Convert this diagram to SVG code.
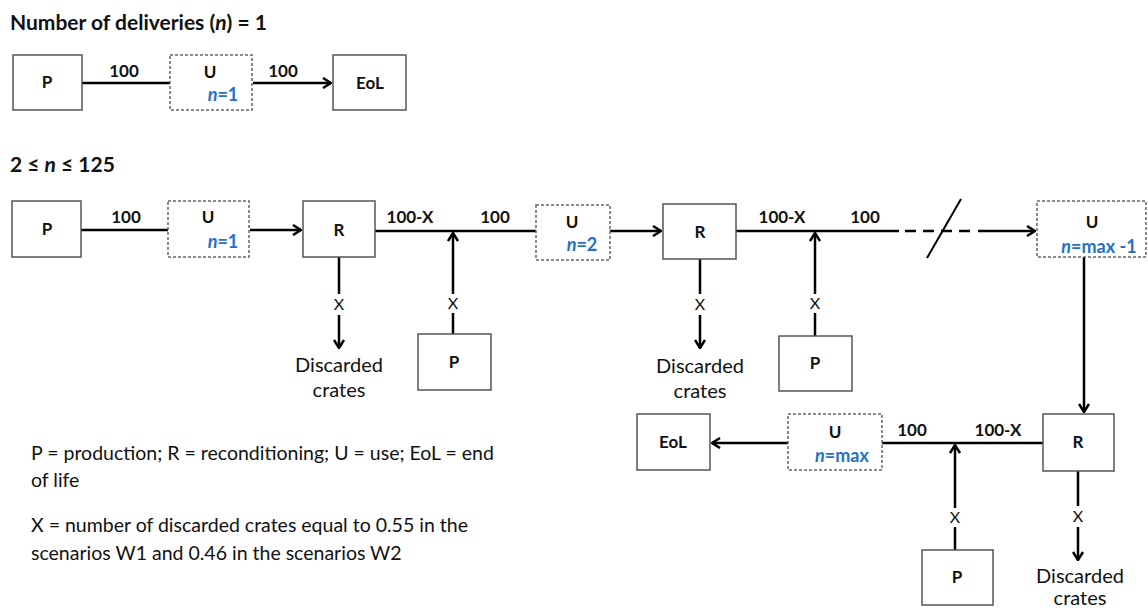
<svg xmlns="http://www.w3.org/2000/svg" width="1148" height="609" viewBox="0 0 1148 609">
<style>
text{font-family:Lato,"Liberation Sans",sans-serif;fill:#111}
.t{font-weight:bold;font-size:21px}
.b{font-weight:bold;font-size:17px;text-anchor:middle}
.n{font-weight:bold;font-size:18px;text-anchor:middle;fill:#2470c8}
.n tspan.i{font-style:italic}
.x{font-size:16px;text-anchor:middle}
.d{font-size:20px;text-anchor:middle}
.lg{font-size:19.5px}
.box{fill:#fff;stroke:#555;stroke-width:1.5}
.ubox{fill:#fff;stroke:#666;stroke-width:1.5;stroke-dasharray:3 2}
.ln{fill:none;stroke:#000;stroke-width:2.5}
</style>
<defs>
<marker id="ah" viewBox="0 0 10 12" refX="9" refY="6" markerWidth="10" markerHeight="12" markerUnits="userSpaceOnUse" orient="auto">
<path d="M1,1 L9,6 L1,11" fill="none" stroke="#000" stroke-width="2.5"/>
</marker>
</defs>
<rect width="1148" height="609" fill="#fff"/>
<text class="t" x="10" y="30">Number of deliveries (<tspan font-style="italic">n</tspan>) = 1</text>
<text class="t" x="10" y="172">2 ≤ <tspan font-style="italic">n</tspan> ≤ 125</text>

<g id="connectors">
<line class="ln" x1="82" y1="83" x2="170" y2="83"/>
<line class="ln" x1="253" y1="83" x2="331" y2="83" marker-end="url(#ah)"/>
<line class="ln" x1="81" y1="230" x2="168" y2="230"/>
<line class="ln" x1="250" y1="230" x2="301" y2="230" marker-end="url(#ah)"/>
<line class="ln" x1="375" y1="231" x2="536" y2="231"/>
<line class="ln" x1="339" y1="257" x2="339" y2="294"/>
<line class="ln" x1="339" y1="315" x2="339" y2="348" marker-end="url(#ah)"/>
<line class="ln" x1="453" y1="334" x2="453" y2="313"/>
<line class="ln" x1="453" y1="294" x2="453" y2="233" marker-end="url(#ah)"/>
<line class="ln" x1="610" y1="231" x2="661" y2="231" marker-end="url(#ah)"/>
<line class="ln" x1="700" y1="259" x2="700" y2="294"/>
<line class="ln" x1="700" y1="315" x2="700" y2="348" marker-end="url(#ah)"/>
<line class="ln" x1="736" y1="231" x2="899" y2="231"/>
<line class="ln" x1="905" y1="231" x2="975" y2="231" stroke-dasharray="11 7"/>
<line class="ln" x1="978" y1="231" x2="1035" y2="231" marker-end="url(#ah)"/>
<line x1="927" y1="258" x2="961" y2="199" stroke="#000" stroke-width="2"/>
<line class="ln" x1="815" y1="336" x2="815" y2="313"/>
<line class="ln" x1="815" y1="294" x2="815" y2="233" marker-end="url(#ah)"/>
<line class="ln" x1="1084" y1="257" x2="1084" y2="412" marker-end="url(#ah)"/>
<line class="ln" x1="788" y1="443" x2="712" y2="443" marker-end="url(#ah)"/>
<line class="ln" x1="882" y1="443" x2="1043" y2="443"/>
<line class="ln" x1="955" y1="550" x2="955" y2="527"/>
<line class="ln" x1="955" y1="508" x2="955" y2="445" marker-end="url(#ah)"/>
<line class="ln" x1="1078" y1="471" x2="1078" y2="506"/>
<line class="ln" x1="1078" y1="527" x2="1078" y2="560" marker-end="url(#ah)"/>
<text class="b" x="124" y="77">100</text>
<text class="b" x="283" y="77">100</text>
<text class="b" x="126" y="223">100</text>
<text class="b" x="410" y="223">100-X</text>
<text class="b" x="495" y="223">100</text>
<text class="b" x="782" y="223">100-X</text>
<text class="b" x="865" y="223">100</text>
<text class="b" x="912" y="436">100</text>
<text class="b" x="998" y="436">100-X</text>
<text class="x" x="339" y="310">X</text>
<text class="x" x="453" y="309">X</text>
<text class="x" x="700" y="310">X</text>
<text class="x" x="815" y="309">X</text>
<text class="x" x="955" y="523">X</text>
<text class="x" x="1078" y="522">X</text>
<text class="d" x="339" y="372">Discarded</text>
<text class="d" x="339" y="397">crates</text>
<text class="d" x="700" y="373">Discarded</text>
<text class="d" x="700" y="398">crates</text>
<text class="d" x="1080" y="583">Discarded</text>
<text class="d" x="1080" y="605">crates</text>
</g>

<g id="p1"><rect class="box" x="13" y="55" width="69" height="55"/><text class="b" x="47" y="88">P</text></g>
<g id="u1"><rect class="ubox" x="170" y="55" width="82" height="55"/><text class="b" x="210" y="78">U</text><text class="n" x="223" y="101"><tspan class="i">n</tspan>=1</text></g>
<g id="eol1"><rect class="box" x="333" y="55" width="73" height="55"/><text class="b" x="370" y="89">EoL</text></g>

<g id="p2"><rect class="box" x="12" y="201" width="69" height="56"/><text class="b" x="47" y="235">P</text></g>
<g id="u2"><rect class="ubox" x="168" y="201" width="81" height="56"/><text class="b" x="208" y="223">U</text><text class="n" x="223" y="248"><tspan class="i">n</tspan>=1</text></g>
<g id="r1"><rect class="box" x="303" y="201" width="72" height="56"/><text class="b" x="339" y="236">R</text></g>
<g id="p3"><rect class="box" x="418" y="334" width="73" height="56"/><text class="b" x="454" y="368">P</text></g>
<g id="u3"><rect class="ubox" x="536" y="205" width="74" height="55"/><text class="b" x="572" y="228">U</text><text class="n" x="582" y="251"><tspan class="i">n</tspan>=2</text></g>
<g id="r2"><rect class="box" x="663" y="204" width="73" height="55"/><text class="b" x="700" y="238">R</text></g>
<g id="p4"><rect class="box" x="779" y="336" width="73" height="55"/><text class="b" x="815" y="369">P</text></g>
<g id="u4"><rect class="ubox" x="1037" y="201" width="109" height="56"/><text class="b" x="1092" y="228">U</text><text class="n" x="1099" y="253"><tspan class="i">n</tspan>=max -1</text></g>

<g id="eol2"><rect class="box" x="637" y="414" width="73" height="56"/><text class="b" x="673" y="448">EoL</text></g>
<g id="u5"><rect class="ubox" x="788" y="414" width="94" height="56"/><text class="b" x="835" y="438">U</text><text class="n" x="842" y="462"><tspan class="i">n</tspan>=max</text></g>
<g id="r3"><rect class="box" x="1043" y="414" width="71" height="57"/><text class="b" x="1078" y="448">R</text></g>
<g id="p5"><rect class="box" x="922" y="550" width="71" height="55"/><text class="b" x="957" y="583">P</text></g>

<g id="legend">
<text class="lg" x="31" y="460">P = production; R = reconditioning; U = use; EoL = end</text>
<text class="lg" x="31" y="487">of life</text>
<text class="lg" x="31" y="532">X = number of discarded crates equal to 0.55 in the</text>
<text class="lg" x="31" y="560">scenarios W1 and 0.46 in the scenarios W2</text>
</g>
</svg>
